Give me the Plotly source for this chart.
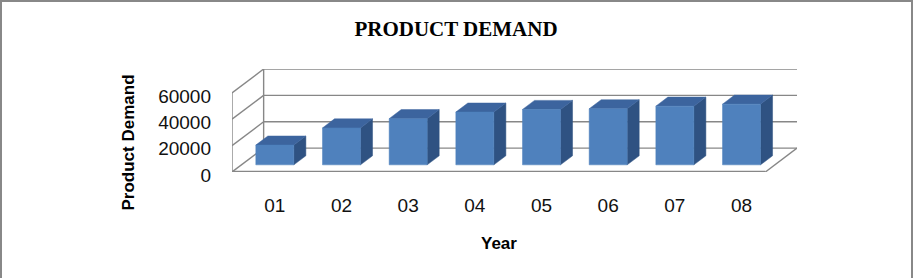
import plotly.graph_objects as go

# ---- data ----
years = ["01", "02", "03", "04", "05", "06", "07", "08"]
demand = [15000, 28000, 35000, 40000, 42000, 42500, 44500, 46000]
y_ticks = [0, 20000, 40000, 60000]
y_tick_text = ["0", "20000", "40000", "60000"]
title_text = "PRODUCT DEMAND"
x_title = "Year"
y_title = "Product Demand"

# ---- layout geometry ----
W, H = 919, 278
L, R, T, B = 232, 122, 69, 106
PW, PH = W - L - R, H - T - B

n = len(years)
DX = 0.4745            # depth offset in category units
DY = 18075.0           # depth offset in value units
YMAX = y_ticks[-1]
BAR_W = 0.57
DF, DB = 0.30, 0.68    # bar front / back depth fraction

GRID = "#878787"
FRONT = "#4F81BD"
TOP = "#3C649E"
SIDE = "#2F5282"

fig = go.Figure()

def line(xs, ys, color=GRID, width=1.4):
    fig.add_trace(go.Scatter(x=xs, y=ys, mode="lines",
                             line=dict(color=color, width=width),
                             hoverinfo="skip", showlegend=False))

x0, x1 = -0.5, n - 0.5
# back wall gridlines and side wall diagonals
for g in y_ticks:
    line([x0 + DX, x1 + DX], [g + DY, g + DY])
    line([x0, x0 + DX], [g, g + DY])
# back wall left edge, front left edge
line([x0 + DX, x0 + DX], [DY, YMAX + DY])
line([x0, x0], [0, YMAX])
# floor right edge
line([x1, x1 + DX], [0, DY])
# floor front edge (thicker)
line([x0, x1], [0, 0], width=2.6)

def poly(xs, ys, color):
    fig.add_trace(go.Scatter(x=xs + [xs[0]], y=ys + [ys[0]], mode="lines",
                             fill="toself", fillcolor=color,
                             line=dict(color=color, width=0.5),
                             hoverinfo="skip", showlegend=False))

fdx, fdy = DF * DX, DF * DY
ddx, ddy = (DB - DF) * DX, (DB - DF) * DY
centers = []
for i, v in enumerate(demand):
    c = i + fdx
    centers.append(c)
    xl, xr = c - BAR_W / 2, c + BAR_W / 2
    yb, yt = fdy, fdy + v
    # side face
    poly([xr, xr + ddx, xr + ddx, xr], [yb, yb + ddy, yt + ddy, yt], SIDE)
    # top face
    poly([xl, xr, xr + ddx, xl + ddx], [yt, yt, yt + ddy, yt + ddy], TOP)
    # front face
    poly([xl, xr, xr, xl], [yb, yb, yt, yt], FRONT)

def px_to_paper_x(px):
    return (px - L) / PW

def px_to_paper_y(py):
    return (H - B - py) / PH

# chart border (left, top, right)
bc = "#888888"
fig.add_shape(type="line", xref="paper", yref="paper",
              x0=px_to_paper_x(1), x1=px_to_paper_x(1),
              y0=px_to_paper_y(0), y1=px_to_paper_y(H), line=dict(color=bc, width=2))
fig.add_shape(type="line", xref="paper", yref="paper",
              x0=px_to_paper_x(0), x1=px_to_paper_x(913),
              y0=px_to_paper_y(1), y1=px_to_paper_y(1), line=dict(color=bc, width=2))
fig.add_shape(type="line", xref="paper", yref="paper",
              x0=px_to_paper_x(912), x1=px_to_paper_x(912),
              y0=px_to_paper_y(0), y1=px_to_paper_y(H), line=dict(color=bc, width=2))

fig.update_layout(
    width=W, height=H,
    margin=dict(l=L, r=R, t=T, b=B, pad=0),
    paper_bgcolor="white", plot_bgcolor="white",
    showlegend=False,
    title=dict(text="<b>" + title_text + "</b>", xref="container", yref="container",
               x=456 / W, y=1 - 29 / H, xanchor="center", yanchor="middle",
               font=dict(family="Liberation Serif", size=21, color="#000000")),
    xaxis=dict(range=[x0, x1 + DX], tickvals=centers, ticktext=years,
               showgrid=False, zeroline=False, showline=False, ticks="",
               ticklabelstandoff=20,
               tickfont=dict(family="Liberation Sans", size=19, color="#111111")),
    yaxis=dict(range=[0, YMAX + DY], tickvals=y_ticks, ticktext=y_tick_text,
               showgrid=False, zeroline=False, showline=False, ticks="",
               ticklabelstandoff=20, ticklabelshift=3,
               tickfont=dict(family="Liberation Sans", size=19, color="#111111")),
    annotations=[
        dict(text="<b>" + x_title + "</b>", xref="x", yref="paper",
             x=(x0 + x1) / 2, y=0, yshift=-71, showarrow=False,
             xanchor="center", yanchor="middle",
             font=dict(family="Liberation Sans", size=17, color="#000000")),
        dict(text="<b>" + y_title + "</b>", xref="paper", yref="paper",
             x=0, y=0, xshift=128 - L, yshift=(H - B) - 142.5, textangle=-90,
             showarrow=False, xanchor="center", yanchor="middle",
             font=dict(family="Liberation Sans", size=17, color="#000000")),
    ],
)

fig.write_html("out.html")
